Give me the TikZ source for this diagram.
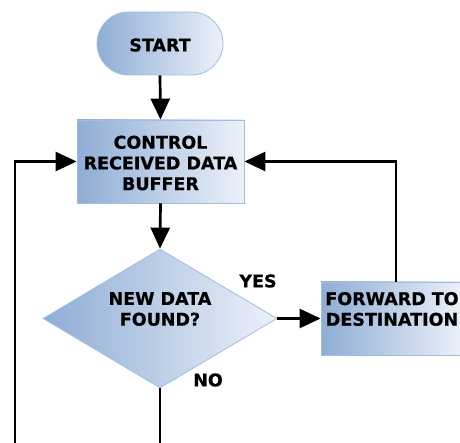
\documentclass[tikz,border=0pt]{standalone}
\usepackage{fontspec}
\setmainfont{DejaVu Sans}[BoldFeatures={FakeBold=0.6}]
\usetikzlibrary{shapes.geometric,arrows.meta}
\definecolor{gleft}{RGB}{143,173,213}
\definecolor{gright}{RGB}{236,241,249}
\definecolor{edgeblue}{RGB}{160,190,226}
\tikzset{
  x=1pt,y=-1pt,
  fill shade/.style={left color=gleft,right color=gright,draw=edgeblue,line width=0.8pt},
  txt/.style={font=\fontsize{17.5}{20.7}\selectfont\bfseries,align=center,inner sep=0pt},
  conn/.style={line width=2.7pt,-{Triangle[length=21pt,width=19pt]}},
  plain/.style={line width=2.7pt},
}
\begin{document}
\begin{tikzpicture}
\clip (0,0) rectangle (460,443);
\node[fill shade,rectangle,rounded corners=31.5pt,minimum width=126pt,minimum height=63pt,inner sep=0pt] (start) at (160,43.5) {};
\node[txt] (starttext) at (160,45) {START};
\node[fill shade,rectangle,minimum width=167pt,minimum height=83pt,inner sep=0pt] (ctrl) at (160.5,161.5) {};
\node[txt] (ctrltext) at (160.5,163) {CONTROL\\RECEIVED DATA\\BUFFER};
\node[fill shade,diamond,minimum width=234pt,minimum height=139pt,inner sep=0pt] (dec) at (160,318.5) {};
\node[txt] (dectext) at (160,309) {NEW DATA\\FOUND?};
\node[fill shade,rectangle,minimum width=142pt,minimum height=73pt,inner sep=0pt] (fwd) at (392,318.5) {};
\node[txt] (fwdtext) at (392,309) {FORWARD TO\\DESTINATION};
\node[txt] (yes) at (258,281) {YES};
\node[txt] (no) at (208,380) {NO};
\coordinate (lbot) at (15,460);
\coordinate (nbot) at (160,460);
\coordinate (rtop) at (396,282);
\draw[conn] (start.south) -- (ctrl.north);
\draw[conn] (ctrl.south) -- (dec.north);
\draw[conn] (dec.east) -- (fwd.west);
\draw[conn] (rtop) |- (ctrl.east);
\draw[conn] (lbot) |- (ctrl.west);
\draw[plain] (dec.south) -- (nbot);
\end{tikzpicture}
\end{document}
